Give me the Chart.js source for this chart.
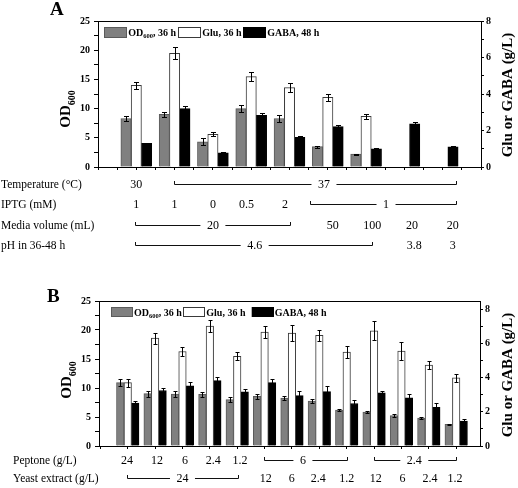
<!DOCTYPE html>
<html>
<head>
<meta charset="utf-8">
<title>OD600, Glu and GABA</title>
<script src="https://cdn.jsdelivr.net/npm/chart.js@4.4.1/dist/chart.umd.min.js"></script>
<style>
  body { margin: 0; background: #fff; }
  .panel { position: absolute; left: 0; }
</style>
</head>
<body>
<canvas id="chartA" class="panel" width="518" height="275" style="top:0"></canvas>
<canvas id="chartB" class="panel" width="518" height="213" style="top:275px"></canvas>
<script>
var serif = "'Liberation Serif', 'Times New Roman', serif";

// ---- panel A : culture conditions ----
var groupsA = [1, 2, 3, 4, 5, 6, 7, 8, 9];
var odA = [8.3, 9.0, 4.3, 10.0, 8.3, 3.5, 2.2, null, null];
var odErrA = [0.4, 0.4, 0.6, 0.55, 0.55, 0.17, 0.1, null, null];
var gluA = [4.48, 6.23, 1.79, 4.95, 4.35, 3.82, 2.78, null, null];
var gluErrA = [0.2, 0.33, 0.11, 0.24, 0.24, 0.2, 0.15, null, null];
var gabaA = [1.3, 3.2, 0.77, 2.83, 1.63, 2.21, 0.99, 2.36, 1.1];
var gabaErrA = [0.04, 0.16, 0.03, 0.11, 0.09, 0.11, 0.05, 0.11, 0.05];

var rowsA = ['Temperature (\u00B0C)', 'IPTG (mM)', 'Media volume (mL)', 'pH in 36-48 h'];
// [row, text, where on x axis, bracket from, bracket to]
var notesA = [
  [0, '30', 1], [0, '37', 5.9, 1.98, 9.35],
  [1, '1', 1], [1, '1', 2], [1, '0', 3], [1, '0.5', 3.88], [1, '2', 4.88], [1, '1', 7.52, 5.54, 9.35],
  [2, '20', 3, 0.97, 5.0], [2, '50', 6.13], [2, '100', 7.16], [2, '20', 8.2], [2, '20', 9.26],
  [3, '4.6', 4.09, 0.97, 7.16], [3, '3.8', 8.26], [3, '3', 9.26]
];

// ---- panel B : peptone / yeast extract ----
var groupsB = [1, 2, 3, 4, 5, 6, 7, 8, 9, 10, 11, 12, 13];
var odB = [10.92, 9.02, 8.97, 8.9, 7.99, 8.56, 8.25, 7.76, 6.21, 5.86, 5.23, 4.83, 3.74];
var odErrB = [0.57, 0.5, 0.46, 0.46, 0.4, 0.46, 0.4, 0.3, 0.23, 0.23, 0.23, 0.23, 0.1];
var gluB = [3.7, 6.3, 5.52, 7.0, 5.24, 6.65, 6.59, 6.47, 5.48, 6.73, 5.54, 4.72, 3.98];
var gluErrB = [0.24, 0.32, 0.27, 0.37, 0.24, 0.36, 0.45, 0.32, 0.34, 0.55, 0.53, 0.24, 0.24];
var gabaB = [2.51, 3.24, 3.51, 3.82, 3.16, 3.7, 2.94, 3.18, 2.48, 3.1, 2.81, 2.26, 1.46];
var gabaErrB = [0.1, 0.16, 0.2, 0.22, 0.17, 0.2, 0.25, 0.35, 0.2, 0.14, 0.25, 0.24, 0.1];

var rowsB = ['Peptone (g/L)', 'Yeast extract (g/L)'];
var notesB = [
  [0, '24', 0.97], [0, '12', 2.07], [0, '6', 3.09], [0, '2.4', 4.12], [0, '1.2', 5.1],
  [0, '6', 7.4, 5.98, 9.01], [0, '2.4', 11.47, 10.0, 13.0],
  [1, '24', 3.0, 0.96, 5.02], [1, '12', 6.04], [1, '6', 6.99], [1, '2.4', 7.96], [1, '1.2', 9.0],
  [1, '12', 10.06], [1, '6', 11.04], [1, '2.4', 12.04], [1, '1.2', 12.96]
];

// legend text, middle part is a subscript
var legendText = [['OD', '600', ', 36 h'], ['Glu, 36 h'], ['GABA, 48 h']];

function points(groups, vals, errs) {
  var out = [];
  for (var i = 0; i < groups.length; i++) {
    if (vals[i] == null) continue;
    out.push({x: groups[i], y: vals[i], e: errs[i]});
  }
  return out;
}

function errorBars(cap) {
  return {
    id: 'errorBars',
    afterDatasetsDraw: function (chart) {
      var ctx = chart.ctx;
      ctx.save();
      ctx.strokeStyle = '#000';
      ctx.lineWidth = 1;
      chart.data.datasets.forEach(function (ds, i) {
        var sc = chart.scales[ds.yAxisID];
        chart.getDatasetMeta(i).data.forEach(function (bar, j) {
          var p = ds.data[j];
          if (!p.e) return;
          var x = Math.round(bar.x) + 0.5;
          var y1 = Math.round(sc.getPixelForValue(p.y + p.e)) + 0.5;
          var y2 = Math.round(sc.getPixelForValue(p.y - p.e)) + 0.5;
          ctx.beginPath();
          ctx.moveTo(x, y1); ctx.lineTo(x, y2);
          ctx.moveTo(x - cap, y1); ctx.lineTo(x + cap, y1);
          ctx.moveTo(x - cap, y2); ctx.lineTo(x + cap, y2);
          ctx.stroke();
        });
      });
      ctx.restore();
    }
  };
}

function decorations(p) {
  return {
    id: 'decorations',
    afterDraw: function (chart) {
      var ctx = chart.ctx, area = chart.chartArea, xs = chart.scales.x;
      ctx.save();
      ctx.strokeStyle = '#000';
      ctx.fillStyle = '#000';
      ctx.lineWidth = 1;
      // top of the frame
      ctx.beginPath();
      ctx.moveTo(area.left, Math.round(area.top) + 0.5);
      ctx.lineTo(area.right, Math.round(area.top) + 0.5);
      ctx.stroke();

      ctx.textBaseline = 'alphabetic';
      ctx.textAlign = 'left';
      ctx.font = 'bold 19px ' + serif;
      ctx.fillText(p.letter, p.letterX, p.letterY);

      // left title OD600
      ctx.save();
      ctx.translate(p.odX, p.odY);
      ctx.rotate(-Math.PI / 2);
      ctx.font = 'bold 15px ' + serif;
      var w1 = ctx.measureText('OD').width;
      ctx.font = 'bold 10px ' + serif;
      var w2 = ctx.measureText('600').width;
      var sx = -(w1 + w2) / 2;
      ctx.font = 'bold 15px ' + serif;
      ctx.fillText('OD', sx, 0);
      ctx.font = 'bold 10px ' + serif;
      ctx.fillText('600', sx + w1, 5);
      ctx.restore();

      // right title
      ctx.save();
      ctx.translate(p.gluX, p.gluY);
      ctx.rotate(-Math.PI / 2);
      ctx.font = 'bold 15px ' + serif;
      ctx.textAlign = 'center';
      ctx.fillText('Glu or GABA (g/L)', 0, 0);
      ctx.restore();

      // legend inside the plot
      var ly = area.top + p.legendDy;
      chart.data.datasets.forEach(function (ds, i) {
        var lx = area.left + p.legendDx[i];
        ctx.fillStyle = ds.backgroundColor;
        ctx.fillRect(lx, ly, p.boxW, p.boxH);
        ctx.strokeStyle = ds.borderColor;
        ctx.strokeRect(Math.round(lx) + 0.5, Math.round(ly) + 0.5, Math.round(p.boxW) - 1, Math.round(p.boxH) - 1);
        lx += p.boxW + 1.5;
        ctx.fillStyle = '#000';
        var base = ly + p.boxH / 2 + 3.5;
        legendText[i].forEach(function (t, k) {
          var sub = legendText[i].length === 3 && k === 1;
          ctx.font = 'bold ' + (sub ? 6.5 : 10) + 'px ' + serif;
          ctx.fillText(t, lx, base + (sub ? 2.5 : 0));
          lx += ctx.measureText(t).width;
        });
      });

      // condition rows under the axis
      ctx.fillStyle = '#000';
      ctx.strokeStyle = '#111';
      ctx.font = '11.5px ' + serif;
      ctx.textBaseline = 'middle';
      ctx.textAlign = 'left';
      p.rows.forEach(function (t, r) { ctx.fillText(t, p.rowX, p.rowY[r]); });
      ctx.font = '12px ' + serif;
      ctx.textAlign = 'center';
      p.notes.forEach(function (n) {
        var y = p.rowY[n[0]];
        var cx = xs.getPixelForValue(n[2]);
        ctx.fillText(n[1], cx, y);
        if (n.length > 3) {
          var half = ctx.measureText(n[1]).width / 2 + 6.5;
          var x0 = Math.round(xs.getPixelForValue(n[3])) + 0.5;
          var x1 = Math.round(xs.getPixelForValue(n[4])) + 0.5;
          var by = Math.round(y - 1) + 0.5;
          ctx.beginPath();
          ctx.moveTo(x0, by - 3.5); ctx.lineTo(x0, by); ctx.lineTo(cx - half, by);
          ctx.moveTo(cx + half, by); ctx.lineTo(x1, by); ctx.lineTo(x1, by - 3.5);
          ctx.stroke();
        }
      });
      ctx.restore();
    }
  };
}

function makePanel(id, p) {
  var tickFont = {family: serif, size: 10, weight: 'bold'};
  return new Chart(document.getElementById(id), {
    type: 'bar',
    data: {
      datasets: [
        {label: 'OD600, 36 h', data: points(p.groups, p.od, p.odErr), yAxisID: 'y',
          backgroundColor: '#808080', borderColor: '#5a5a5a', borderWidth: 1},
        {label: 'Glu, 36 h', data: points(p.groups, p.glu, p.gluErr), yAxisID: 'y1',
          backgroundColor: '#ffffff', borderColor: '#3a3a3a', borderWidth: 1},
        {label: 'GABA, 48 h', data: points(p.groups, p.gaba, p.gabaErr), yAxisID: 'y1',
          backgroundColor: '#000000', borderColor: '#000000', borderWidth: 1}
      ]
    },
    options: {
      responsive: false,
      animation: false,
      devicePixelRatio: 1,
      datasets: {bar: {barThickness: p.barW}},
      layout: {padding: {top: p.top, left: 0, right: 0, bottom: 0}},
      plugins: {legend: {display: false}, tooltip: {enabled: false}},
      scales: {
        x: {
          type: 'linear', min: p.xMin, max: p.xMax, offset: false,
          ticks: {display: false, stepSize: p.xStep, includeBounds: false},
          grid: {offset: false, drawOnChartArea: false, tickLength: 3, color: '#000'},
          border: {color: '#000', width: 1},
          afterFit: function (s) { s.height = p.xHeight; }
        },
        y: {
          position: 'left', min: 0, max: 25,
          ticks: {stepSize: 2.5, autoSkip: false, padding: 4, color: '#000', font: tickFont,
            callback: function (v) { return v % 5 === 0 ? v : ''; }},
          grid: {drawOnChartArea: false, tickLength: 4, color: '#000'},
          border: {color: '#000', width: 1},
          afterFit: function (s) { s.width = p.yWidth; }
        },
        y1: {
          position: 'right', min: 0, max: p.rightMax,
          ticks: {stepSize: 1, includeBounds: false, autoSkip: false, padding: 2, color: '#000', font: tickFont,
            callback: function (v) { return v % 2 === 0 ? v : ''; }},
          grid: {drawOnChartArea: false, tickLength: 3, color: '#000'},
          border: {color: '#000', width: 1},
          afterFit: function (s) { s.width = p.y1Width; }
        }
      }
    },
    plugins: [errorBars(p.cap), decorations(p)]
  });
}

var chartA = makePanel('chartA', {
  groups: groupsA, od: odA, odErr: odErrA, glu: gluA, gluErr: gluErrA, gaba: gabaA, gabaErr: gabaErrA,
  rows: rowsA, notes: notesA, rowX: 1, rowY: [185, 205, 226, 246],
  top: 21, xHeight: 108, yWidth: 98, y1Width: 37,
  xMin: 0, xMax: 10, xStep: 0.5, rightMax: 8, barW: 10.3, cap: 2.5,
  letter: 'A', letterX: 50, letterY: 15, odX: 70, odY: 109, gluX: 512, gluY: 95,
  legendDx: [6.3, 80.3, 145.3], legendDy: 6, boxW: 22.5, boxH: 10.5
});

var chartB = makePanel('chartB', {
  groups: groupsB, od: odB, odErr: odErrB, glu: gluB, gluErr: gluErrB, gaba: gabaB, gabaErr: gabaErrB,
  rows: rowsB, notes: notesB, rowX: 13, rowY: [186, 204],
  top: 26, xHeight: 42, yWidth: 99, y1Width: 38,
  xMin: -0.05, xMax: 13.87, xStep: 1, rightMax: 8.47, barW: 7.5, cap: 2,
  letter: 'B', letterX: 47, letterY: 27, odX: 71, odY: 105, gluX: 512, gluY: 100,
  legendDx: [12, 84.3, 152.7], legendDy: 6, boxW: 21.5, boxH: 10
});
</script>
</body>
</html>
